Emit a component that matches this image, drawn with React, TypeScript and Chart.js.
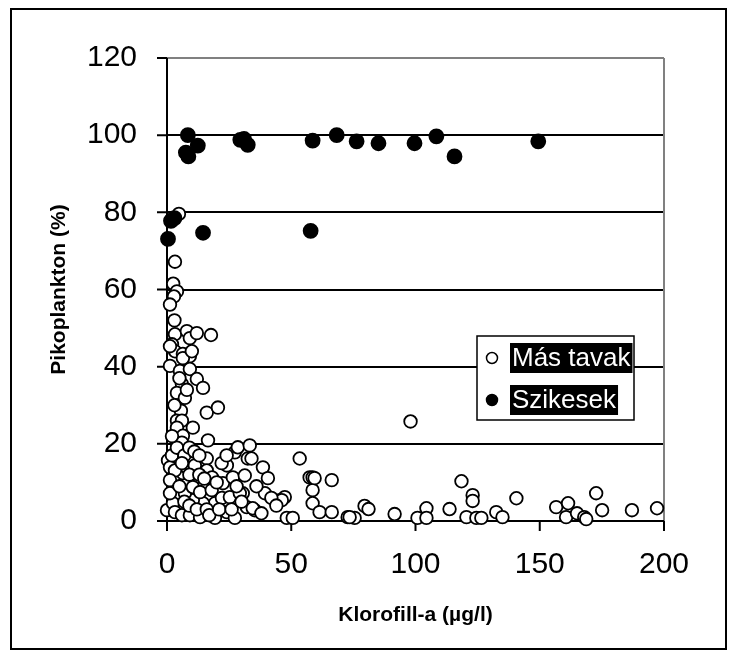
import React, { useEffect, useRef } from 'react';
import { Chart, registerables } from 'chart.js';

Chart.register(...registerables);

const X_MIN = 0;
const X_MAX = 200;
const X_STEP = 50;
const Y_MIN = 0;
const Y_MAX = 120;
const Y_STEP = 20;

const seriesNames = ['Más tavak', 'Szikesek'];
const xTitle = 'Klorofill-a (µg/l)';
const yTitle = 'Pikoplankton (%)';

const masX = [
  4.8, 3.2, 2.5, 4, 2.8, 1.2, 3.2, 8, 9.2, 12, 17.7, 2, 3.2, 6.4, 9.2, 1.2, 6.4, 1.2, 5.2, 9.2,
  12, 6, 14.5, 4, 7.2, 16, 20.5, 5.6, 4, 6, 4, 10.4, 6.4, 6, 16.5, 0.4, 1.2, 3.2, 6.4, 8,
  11.2, 16, 16, 12, 14.5, 18.1, 22.5, 24.1, 26.5, 27.3, 28.5, 33.3, 32.5, 31.3, 30.5, 32.1, 35.3, 38.6, 39.4, 40.6,
  45.4, 47.4, 48.2, 50.6, 53.4, 57.4, 58.6, 58.6, 66.3, 58.6, 61.4, 66.3, 72.7, 0, 2.4, 3.2, 6, 9.2, 13.3, 19.3,
  24.1, 27.3, 19.3, 22.1, 14.5, 10.4, 1.2, 7.2, 10.4, 3.2, 13.3, 25.3, 29.3, 1.2, 98, 118.5, 123, 123, 140.6, 75.5,
  79.5, 81.1, 91.6, 100.8, 104.4, 104.4, 113.7, 120.5, 124.5, 126.5, 132.5, 135, 156.6, 161.4, 160.6, 165, 167.9, 168.7, 172.7, 175.1,
  187.1, 197.2, 34, 59.4, 34.5, 46.2, 73.5, 2, 4, 7, 9, 11, 13, 6, 9, 13, 15, 18, 20, 22,
  24, 7, 5, 9, 12, 16, 17, 21, 26, 28, 30, 36, 38, 42, 44, 2, 3, 5, 8, 3, 10
];
const masY = [
  79.6, 67.2, 61.5, 59.5, 58.2, 56.1, 48.4, 49.2, 47.4, 48.7, 48.2, 45.8, 44, 43.3, 42.7, 45.3, 42.2, 40.2, 38.9, 39.4,
  36.8, 35.5, 34.5, 33.2, 31.9, 28.1, 29.4, 28.6, 26, 26, 24.2, 24.2, 22.1, 20.3, 20.9, 15.7, 13.9, 11.8, 12.4, 13.9,
  14.4, 16.2, 13.1, 10, 8.8, 11.3, 9.8, 14.4, 11.3, 17.8, 19.1, 19.6, 16.2, 11.8, 7.2, 3.6, 2.8, 13.9, 7.2, 11.1,
  5.4, 6.2, 0.8, 0.8, 16.2, 11.3, 11.3, 8, 10.6, 4.6, 2.3, 2.3, 1, 2.8, 4.6, 2.3, 1.5, 1.5, 1, 0.8,
  2.3, 0.8, 4.6, 6, 4.6, 5.4, 7.2, 7.2, 8.8, 13.1, 7.5, 6.2, 7.2, 10.6, 25.8, 10.3, 6.7, 5.2, 5.9, 0.8,
  3.9, 3.1, 1.8, 0.8, 3.3, 0.8, 3.1, 1, 0.8, 0.8, 2.3, 1, 3.6, 4.6, 1, 2, 1, 0.5, 7.2, 2.8,
  2.8, 3.3, 16.2, 11.1, 3.3, 5.4, 1, 17, 19, 17, 19, 18, 17, 15, 12, 12, 11, 8, 10, 15,
  17, 5, 9, 4, 3, 3, 1.5, 3, 3, 9, 5, 9, 2, 6, 4, 22, 30, 37, 34, 52, 44
];

const szikX = [0.4, 1.6, 3, 8.4, 12.4, 7.6, 8.6, 29.5, 31, 32.5, 58.6, 68.3, 76.3, 85.1, 99.6, 108.4, 115.7, 149.4, 14.5, 57.8];
const szikY = [73.1, 77.8, 78.5, 100, 97.3, 95.5, 94.5, 98.8, 99, 97.5, 98.6, 100, 98.4, 97.9, 97.9, 99.7, 94.5, 98.4, 74.7, 75.2];

const FONT = "'Liberation Sans', Arial, sans-serif";
const TICK = 10;

const framePlugin = {
  id: 'frame',
  beforeDatasetsDraw(chart: any) {
    const { ctx, chartArea, scales } = chart;
    const { left, right, top, bottom } = chartArea;
    const x = scales.x;
    const y = scales.y;
    ctx.save();
    ctx.lineWidth = 2;
    ctx.strokeStyle = '#808080';
    ctx.beginPath();
    ctx.moveTo(right, top);
    ctx.lineTo(right, bottom);
    ctx.stroke();
    ctx.strokeStyle = '#000';
    ctx.beginPath();
    ctx.moveTo(left, top);
    ctx.lineTo(left, bottom + TICK);
    ctx.moveTo(left - TICK, bottom);
    ctx.lineTo(right, bottom);
    y.ticks.forEach((t: any) => {
      const py = y.getPixelForValue(t.value);
      ctx.moveTo(left - TICK, py);
      ctx.lineTo(left, py);
    });
    x.ticks.forEach((t: any) => {
      const px = x.getPixelForValue(t.value);
      ctx.moveTo(px, bottom);
      ctx.lineTo(px, bottom + TICK);
    });
    ctx.stroke();
    ctx.restore();
  },
};

const legendPlugin = {
  id: 'boxLegend',
  afterDraw(chart: any) {
    const { ctx, chartArea } = chart;
    const bx = chartArea.left + 310;
    const by = chartArea.top + 278;
    const bw = 157;
    const bh = 84;
    ctx.save();
    ctx.fillStyle = '#fff';
    ctx.fillRect(bx, by, bw, bh);
    ctx.lineWidth = 1.5;
    ctx.strokeStyle = '#000';
    ctx.strokeRect(bx, by, bw, bh);
    ctx.font = `26px ${FONT}`;
    ctx.textBaseline = 'middle';
    chart.data.datasets.forEach((ds: any, i: number) => {
      const cy = by + 22 + i * 42;
      ctx.beginPath();
      ctx.arc(bx + 15, cy, 5.5, 0, Math.PI * 2);
      ctx.fillStyle = ds.backgroundColor;
      ctx.fill();
      ctx.lineWidth = 1.5;
      ctx.strokeStyle = '#000';
      ctx.stroke();
      const tw = ctx.measureText(ds.label).width;
      ctx.fillStyle = '#000';
      ctx.fillRect(bx + 33, cy - 15, tw + 4, 30);
      ctx.fillStyle = '#fff';
      ctx.fillText(ds.label, bx + 35, cy + 1);
    });
    ctx.restore();
  },
};

export default function App() {
  const ref = useRef<HTMLCanvasElement | null>(null);

  useEffect(() => {
    if (!ref.current) return;
    const chart = new Chart(ref.current, {
      type: 'scatter',
      data: {
        datasets: [
          {
            label: seriesNames[0],
            data: masX.map((v, i) => ({ x: v, y: masY[i] })),
            backgroundColor: '#ffffff',
            borderColor: '#000000',
            borderWidth: 1.8,
            pointRadius: 6.3,
            order: 2,
            clip: false,
          },
          {
            label: seriesNames[1],
            data: szikX.map((v, i) => ({ x: v, y: szikY[i] })),
            backgroundColor: '#000000',
            borderColor: '#000000',
            borderWidth: 1.8,
            pointRadius: 7,
            order: 1,
            clip: false,
          },
        ],
      },
      options: {
        animation: false,
        responsive: true,
        maintainAspectRatio: false,
        layout: { padding: { top: 45, right: 61, left: 0, bottom: 0 } },
        plugins: { legend: { display: false }, tooltip: { enabled: false } },
        scales: {
          x: {
            type: 'linear',
            min: X_MIN,
            max: X_MAX,
            afterFit: (s: any) => { s.height = 127; },
            ticks: { stepSize: X_STEP, color: '#000', font: { family: FONT, size: 30 }, padding: 26, maxRotation: 0 },
            grid: { display: false, drawTicks: false },
            border: { display: false },
            title: { display: true, text: xTitle, color: '#000', font: { family: FONT, size: 21, weight: 'bold' }, padding: { top: 0, bottom: 20 } },
          },
          y: {
            type: 'linear',
            min: Y_MIN,
            max: Y_MAX,
            afterFit: (s: any) => { s.width = 155; },
            ticks: { stepSize: Y_STEP, color: '#000', font: { family: FONT, size: 30 }, padding: 30 },
            grid: {
              drawTicks: false,
              lineWidth: 2,
              color: (c: any) => (c.tick && c.tick.value === Y_MAX ? '#808080' : c.tick && c.tick.value === Y_MIN ? 'rgba(0,0,0,0)' : '#000'),
            },
            border: { display: false },
            title: { display: true, text: yTitle, color: '#000', font: { family: FONT, size: 21, weight: 'bold' }, padding: { top: 35, bottom: 0 } },
          },
        },
      },
      plugins: [framePlugin, legendPlugin],
    });
    return () => chart.destroy();
  }, []);

  return (
    <div
      style={{
        position: 'absolute',
        left: 10,
        top: 8,
        width: 717,
        height: 642,
        border: '2px solid #000',
        boxSizing: 'border-box',
        background: '#fff',
      }}
    >
      <div style={{ position: 'relative', width: 713, height: 638 }}>
        <canvas ref={ref} />
      </div>
    </div>
  );
}
